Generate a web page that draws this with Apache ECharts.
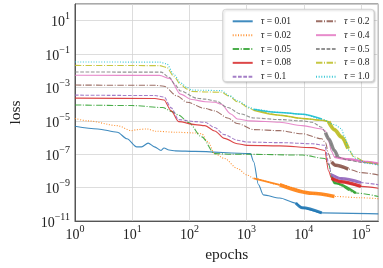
<!DOCTYPE html>
<html><head><meta charset="utf-8">
<script src="https://cdn.jsdelivr.net/npm/echarts@6/dist/echarts.min.js"></script>
<style>html,body{margin:0;padding:0;background:#fff}#c{width:383px;height:268px}</style>
</head><body><div id="c"></div>
<script>
// ---- data (epoch, loss) ----
const tauValues = ['0.01','0.02','0.05','0.08','0.1','0.2','0.4','0.5','0.8','1.0'];
const lossTau001 = [[1,4.8e-6],[2.5,3.3e-6],[5.5,2.1e-6],[8.1,8.5e-7],[12,2.8e-7],[14.6,2.8e-7],[19,4.7e-7],[24.5,2.8e-7],[32,1.7e-7],[36,2.4e-7],[44,1.8e-7],[57,1.6e-7],[126,1.5e-7],[1165,1.1e-7],[1330,3.6e-8],[1615,1.5e-9],[1965,3.7e-10],[3780,2.4e-10],[7250,1.2e-10],[9420,6.2e-11],[20650,3.1e-11],[201000,2.7e-11]];
const lossTau002 = [[1,1.4e-5],[1.7,1e-5],[5.5,5.2e-6],[9.8,2.6e-6],[12,3e-6],[18,3.3e-6],[26,2.4e-6],[57,2.1e-6],[126,1.9e-6],[164,1.7e-6],[212,5.4e-7],[277,1.1e-7],[410,5.6e-8],[690,1.4e-8],[1020,5.8e-9],[1330,3.6e-9],[3800,1.5e-9],[14000,4.7e-10],[34400,3e-10],[100000,2.5e-10],[201000,2.2e-10]];
const lossTau005 = [[1,9e-5],[10,8.3e-5],[34,6.3e-5],[50,3.6e-5],[65,2.2e-5],[97,8e-6],[164,1.1e-6],[277,1.1e-7],[605,1e-7],[1020,1e-7],[9400,9e-8],[23250,5.6e-8],[27200,2.5e-8],[31000,5e-9],[34400,1.9e-9],[81500,4.8e-10],[201000,3e-10]];
const lossTau008 = [[1,2.3e-4],[25,2.2e-4],[36,1.8e-4],[48,4e-5],[65,9e-6],[126,6e-6],[187,5.2e-6],[277,2.5e-6],[410,9e-7],[690,4.3e-7],[1020,3.4e-7],[3800,3.2e-7],[14000,2.5e-7],[23250,1.7e-7],[27200,1e-8],[30600,3.6e-9],[45300,2.3e-9],[100000,1.2e-9],[201000,9.3e-10]];
const lossTau01 = [[1,3.5e-4],[25,3.3e-4],[36,2.7e-4],[48,6e-5],[65,1.2e-5],[126,9e-6],[187,8.3e-6],[277,4e-6],[410,1.5e-6],[690,7e-7],[1020,5.4e-7],[3800,5e-7],[14000,4.3e-7],[23250,3.5e-7],[27200,3e-8],[30600,6e-9],[45300,3.5e-9],[100000,2e-9],[201000,1.5e-9]];
const lossTau02 = [[1,1.4e-3],[25,1.35e-3],[36,1.2e-3],[61,3.1e-4],[91,1.3e-4],[187,5.6e-5],[277,4e-5],[466,1.5e-5],[690,7e-6],[1330,3e-6],[3800,2.6e-6],[9400,1.7e-6],[20650,8.5e-7],[24000,5e-7],[27200,1e-7],[30600,3.5e-8],[36000,2.2e-8],[60000,1.3e-8],[100000,8e-9],[201000,5.8e-9]];
const lossTau04 = [[1,5.4e-3],[30,5.3e-3],[45,3.5e-3],[70,4e-4],[110,1.9e-4],[190,1.4e-4],[280,1.3e-4],[360,1e-4],[532,2.6e-5],[690,1.3e-5],[1165,1e-5],[3800,8.3e-6],[9400,5.2e-6],[20650,3.3e-6],[24000,2.5e-6],[27200,6e-7],[30600,1.5e-7],[34400,7e-8],[60000,5e-8],[129000,3.5e-8],[201000,2.8e-8]];
const lossTau05 = [[1,8.5e-3],[32,8.3e-3],[45,4e-3],[55,1.6e-3],[70,6.2e-4],[134,2.3e-4],[190,2e-4],[300,1.5e-4],[466,6.3e-5],[788,2.6e-5],[1330,1.5e-5],[3800,1.2e-5],[9400,1e-5],[14000,8.3e-6],[20650,4.2e-6],[24000,2e-6],[27200,8.5e-7],[34400,1.7e-7],[39000,7e-8],[60000,4.5e-8],[100000,3.3e-8],[201000,2.5e-8]];
const lossTau08 = [[1,2.1e-2],[30,2.05e-2],[40,1.6e-2],[54,4.5e-3],[70,1.5e-3],[91,8e-4],[111,5.8e-4],[190,5.4e-4],[360,5.2e-4],[500,3e-4],[690,1.4e-4],[1165,5.5e-5],[1330,4.3e-5],[3800,2.2e-5],[9400,1.4e-5],[20650,1.1e-5],[27200,9e-6],[34400,3e-6],[45300,1.1e-6],[59600,2.2e-7],[75000,7e-8],[129000,3.2e-8],[201000,2.5e-8]];
const lossTau10 = [[1,3.4e-2],[30,3.3e-2],[40,2.6e-2],[54,5.9e-3],[70,1.9e-3],[91,1e-3],[111,7e-4],[190,6.8e-4],[360,6.5e-4],[500,3.3e-4],[690,1.6e-4],[1165,6.3e-5],[1330,5e-5],[3800,3.2e-5],[9400,2.5e-5],[20650,1.3e-5],[34400,6e-6],[45300,3.5e-6],[51000,1.3e-6],[62000,1.7e-7],[81500,5.6e-8],[129000,2.8e-8],[201000,2.2e-8]];
const seriesData = [lossTau001,lossTau002,lossTau005,lossTau008,lossTau01,lossTau02,lossTau04,lossTau05,lossTau08,lossTau10];

// ---- styles ----
const colors = ['#1f77b4','#ff7f0e','#2ca02c','#d62728','#9467bd','#8c564b','#e377c2','#7f7f7f','#bcbd22','#17becf'];
const DASHED=[3.7,1.6], DASHDOT=[6.4,1.6,1,1.6], DOTTED=[1,1.65];
const dashes = ['solid',DOTTED,DASHDOT,'solid',DASHED,DASHDOT,'solid',DASHED,DASHDOT,DOTTED];
// noisy (thick) stretches of each curve: [first point index, last point index, stroke width]
const bands = [[[18,20,3]],[[15,16,1.8],[16,18,3.5]],[[13,15,2.5]],[[15,17,3.5]],[[15,17,3]],[[15,17,3.5]],[[17,20,2.5]],[[15,18,3.5]],[[12,16,1.5],[16,19,4]],[[12,15,1.5]]];
const FONT = 'Liberation Serif';
const names = tauValues.map(t => 'τ = ' + t);

const series = [];
seriesData.forEach((d,i)=>{
  series.push({name:names[i],type:'line',data:d,symbol:'none',smooth:0.3,smoothMonotone:'x',
    lineStyle:{color:colors[i],width:1.1,type:dashes[i],opacity:0.85},itemStyle:{color:colors[i]},z:2+i*0.01});
});
seriesData.forEach((d,i)=>{
  bands[i].forEach(b=>{
    series.push({type:'line',data:d.slice(b[0],b[1]+1),symbol:'none',smooth:0.3,smoothMonotone:'x',silent:true,
      lineStyle:{color:colors[i],width:b[2],opacity:0.9},z:2+i*0.01});
  });
});

function powLabel(v, oddOnly){
  const e=Math.log10(v), r=Math.round(e);
  if(Math.abs(e-r)>1e-6) return '';
  if(oddOnly && Math.abs(r)%2!==1) return '';
  return '{b|10}{s|'+(r<0?'\u2212'+(-r):r)+'}';
}
const rich = {b:{fontFamily:FONT,fontSize:14,color:'#222',verticalAlign:'bottom',lineHeight:18},
              s:{fontFamily:FONT,fontSize:10,color:'#222',verticalAlign:'top',lineHeight:18}};
const legendCommon = {orient:'vertical',top:11.3,itemWidth:20,itemHeight:10,itemGap:3.85,z:20,
  itemStyle:{color:'rgba(0,0,0,0)',borderColor:'rgba(0,0,0,0)',borderWidth:0,opacity:0},
  textStyle:{fontFamily:FONT,fontSize:9.5,color:'#222',lineHeight:10,padding:[0,0,0,3],rich:{i:{fontFamily:FONT,fontStyle:'italic',fontSize:10,color:'#222'}}},
  formatter:n=>'{i|τ}'+n.slice(1)};

const chart = echarts.init(document.getElementById('c'),null,{renderer:'canvas'});
chart.setOption({
  animation:false,
  grid:{left:66.7,right:4.7,top:4,bottom:44.7,show:true,borderColor:'#555',borderWidth:1},
  xAxis:{type:'log',logBase:10,min:1,max:201000,interval:1,
    name:'epochs',nameLocation:'middle',nameGap:22,nameTextStyle:{fontFamily:FONT,fontSize:15.5,color:'#222'},
    axisLine:{lineStyle:{color:'#555'}},axisTick:{show:false},
    axisLabel:{formatter:v=>powLabel(v,false),rich:rich,margin:3},
    splitLine:{show:true,lineStyle:{color:'#d4d4d4',width:0.8}}},
  yAxis:{type:'log',logBase:10,min:1e-11,max:100,interval:2,
    name:'loss',nameLocation:'middle',nameGap:51,nameTextStyle:{fontFamily:FONT,fontSize:15.5,color:'#222'},
    axisLine:{show:true,lineStyle:{color:'#555'}},axisTick:{show:false},
    axisLabel:{formatter:v=>powLabel(v,true),rich:rich,margin:5},
    splitLine:{show:true,lineStyle:{color:'#d4d4d4',width:0.8}}},
  legend:[Object.assign({},legendCommon,{left:226.7,data:names.slice(0,5)}),
          Object.assign({},legendCommon,{left:310,data:names.slice(5)})],
  graphic:[{type:'rect',z:15,shape:{x:222.7,y:9.3,width:151.3,height:72.4,r:3},
    style:{fill:'#fff',stroke:'#ccc',lineWidth:0.8,shadowBlur:2,shadowOffsetX:1,shadowOffsetY:1,shadowColor:'rgba(0,0,0,0.2)'}}],
  series:series
});
</script></body></html>
